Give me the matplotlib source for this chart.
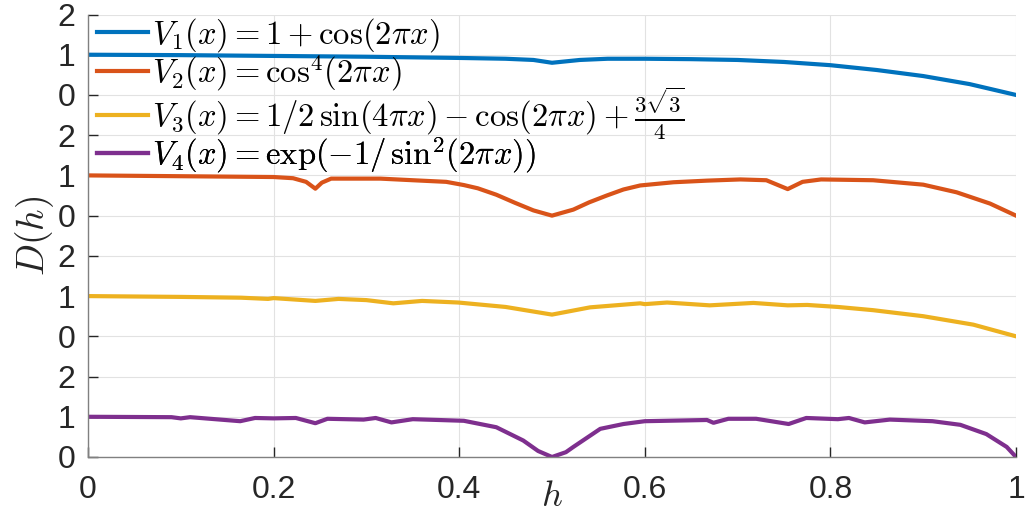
import matplotlib
matplotlib.use("Agg")
import matplotlib.pyplot as plt

# ---- data ----
V1_h = [0, 0.1, 0.2, 0.3, 0.4, 0.45, 0.48, 0.5, 0.53, 0.56, 0.6, 0.65, 0.7, 0.75, 0.8, 0.85, 0.9, 0.95, 1.0]
V1 = [1.0, 0.99, 0.97, 0.95, 0.92, 0.90, 0.87, 0.80, 0.87, 0.90, 0.90, 0.89, 0.87, 0.82, 0.74, 0.62, 0.47, 0.27, 0.0]

V2_h = [0, 0.1, 0.2, 0.221, 0.235, 0.245, 0.252, 0.262, 0.315, 0.35, 0.386, 0.405, 0.42, 0.44, 0.46, 0.48, 0.5,
        0.523, 0.54, 0.559, 0.577, 0.595, 0.631, 0.667, 0.703, 0.731, 0.754, 0.77, 0.79, 0.846, 0.9, 0.936, 0.972, 1.0]
V2 = [1.0, 0.98, 0.96, 0.93, 0.84, 0.67, 0.82, 0.92, 0.92, 0.88, 0.84, 0.76, 0.68, 0.52, 0.32, 0.13, 0.0,
      0.15, 0.33, 0.5, 0.65, 0.75, 0.83, 0.87, 0.90, 0.88, 0.66, 0.84, 0.90, 0.88, 0.77, 0.58, 0.3, 0.0]

V3_h = [0, 0.1, 0.165, 0.194, 0.2, 0.245, 0.27, 0.3, 0.329, 0.36, 0.399, 0.45, 0.5, 0.541, 0.595, 0.6,
        0.624, 0.67, 0.717, 0.754, 0.775, 0.808, 0.846, 0.9, 0.954, 1.0]
V3 = [1.0, 0.98, 0.96, 0.93, 0.95, 0.88, 0.93, 0.90, 0.82, 0.88, 0.84, 0.73, 0.54, 0.72, 0.82, 0.80,
      0.84, 0.77, 0.83, 0.77, 0.78, 0.73, 0.65, 0.5, 0.29, 0.0]

V4_h = [0, 0.09, 0.1, 0.11, 0.164, 0.18, 0.2, 0.224, 0.245, 0.258, 0.297, 0.31, 0.327, 0.35, 0.405, 0.44,
        0.469, 0.485, 0.5, 0.515, 0.523, 0.552, 0.577, 0.6, 0.667, 0.674, 0.69, 0.72, 0.755, 0.774, 0.808,
        0.82, 0.837, 0.864, 0.91, 0.94, 0.968, 0.99, 1.0]
V4 = [1.0, 0.99, 0.96, 0.99, 0.89, 0.97, 0.96, 0.97, 0.84, 0.95, 0.93, 0.97, 0.86, 0.94, 0.90, 0.74,
      0.41, 0.15, 0.0, 0.12, 0.25, 0.70, 0.82, 0.89, 0.92, 0.85, 0.95, 0.95, 0.82, 0.97, 0.94,
      0.97, 0.86, 0.93, 0.89, 0.80, 0.57, 0.25, 0.0]

OFFSETS = [9, 6, 3, 0]
LABELS = [r'$V_1(x) = 1 + \cos(2\pi x)$',
          r'$V_2(x) = \mathrm{cos}^4(2\pi x)$',
          r'$V_3(x) = 1/2\,\sin(4\pi x) - \cos(2\pi x) + \frac{3\sqrt{3}}{4}$',
          r'$V_4(x) = \exp(-1/\,\mathrm{sin}^2(2\pi x))$']
COLORS = ['#0072BD', '#D95319', '#EDB120', '#7E2F8E']

X_TICKS = [0, 0.2, 0.4, 0.6, 0.8, 1]
X_TICKLABELS = ['0', '0.2', '0.4', '0.6', '0.8', '1']
Y_TICKS = list(range(0, 12))
Y_TICKLABELS = ['0', '1', '2'] * 4

# ---- figure ----
plt.rcParams['mathtext.fontset'] = 'cm'
plt.rcParams['font.family'] = ['Liberation Sans', 'DejaVu Sans']

fig = plt.figure(figsize=(10.33, 5.16), dpi=100)
ax = fig.add_axes([88 / 1033, (516 - 457) / 516, (1016 - 88) / 1033, (457 - 14.5) / 516])

series = [(V1_h, V1), (V2_h, V2), (V3_h, V3), (V4_h, V4)]
handles = []
for (hx, vy), off, lab, col in zip(series, OFFSETS, LABELS, COLORS):
    ln, = ax.plot(hx, [v + off for v in vy], color=col, lw=3.0, label=lab, solid_joinstyle='round')
    handles.append(ln)

ax.set_xlim(0, 1)
ax.set_ylim(0, 11)
ax.set_xticks(X_TICKS)
ax.set_xticklabels(X_TICKLABELS)
ax.set_yticks(Y_TICKS)
ax.set_yticklabels(Y_TICKLABELS)

ax.grid(True, color='#e2e2e2', lw=0.8)
ax.set_axisbelow(True)
for s in ['top', 'right']:
    ax.spines[s].set_visible(False)
for s in ['left', 'bottom']:
    ax.spines[s].set_color('#808080')
    ax.spines[s].set_linewidth(1.0)

ax.tick_params(axis='both', direction='in', length=7, width=1.0, color='#262626',
               labelsize=23, labelcolor='#262626')
ax.tick_params(axis='y', pad=9)
ax.tick_params(axis='x', pad=13)

ax.set_ylabel(r'$D(h)$', fontsize=27, color='#262626', labelpad=1)
ax.set_xlabel(r'$h$', fontsize=26, color='#262626')
ax.xaxis.set_label_coords(0.5, -0.05)

# legend: one entry per row, each anchored at its row centre (MATLAB-like uniform rows)
row_y = [0.953, 0.868, 0.777, 0.683]
for h, lab, y in zip(handles, LABELS, row_y):
    lg = ax.legend([h], [lab], loc='center left', frameon=False, fontsize=23.5,
                   handlelength=1.55, handletextpad=0.12, borderaxespad=0.0, borderpad=0.0,
                   bbox_to_anchor=(0.0097, y))
    ax.add_artist(lg)

fig.savefig('out.png', dpi=100)
